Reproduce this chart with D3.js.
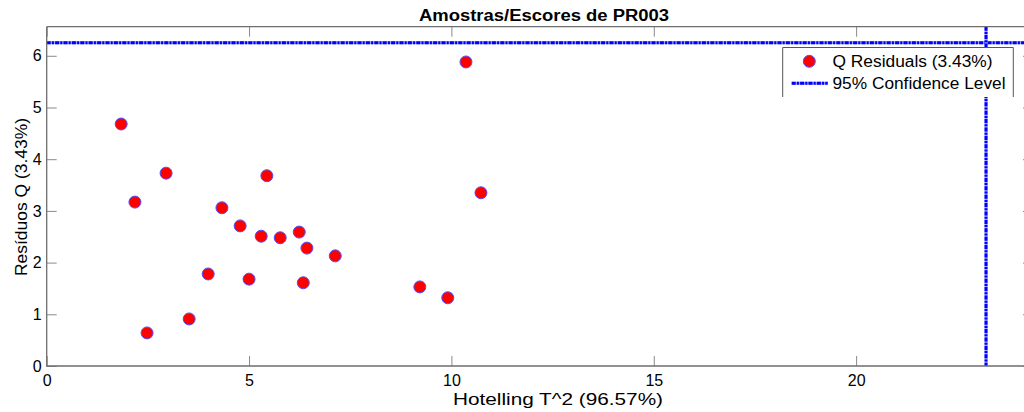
<!DOCTYPE html>
<html>
<head>
<meta charset="utf-8">
<script src="https://cdn.jsdelivr.net/npm/d3@7"></script>
<style>
  html, body { margin: 0; padding: 0; background: #fff; }
  svg { display: block; font-family: "Liberation Sans", Arial, sans-serif; }
</style>
</head>
<body>
<svg id="chart" width="1024" height="412"></svg>
<script>
// Hotelling T^2 and Q residuals for each sample
const tSquared   = [1.84, 2.18, 2.48, 2.95, 3.52, 3.99, 4.33, 4.78, 5.00, 5.30,
                    5.44, 5.77, 6.24, 6.43, 6.34, 7.13, 9.22, 9.91, 10.36, 10.73];
const qResiduals = [4.68, 3.17, 0.64, 3.73, 0.91, 1.78, 3.06, 2.71, 1.68, 2.51,
                    3.68, 2.48, 2.59, 2.28, 1.61, 2.13, 1.53, 1.32, 5.88, 3.35];

// 95% confidence limits
const qLimit = 6.25;
const tLimit = 23.21;

const xTicks = [0, 5, 10, 15, 20];
const yTicks = [0, 1, 2, 3, 4, 5, 6];

const titleText  = "Amostras/Escores de PR003";
const xLabelText = "Hotelling T^2 (96.57%)";
const yLabelText = "Resíduos Q (3.43%)";
const legendLabels = ["Q Residuals (3.43%)", "95% Confidence Level"];

const svg = d3.select("#chart");
const plotLeft = 46.7, plotRight = 1033, plotTop = 26.7, plotBottom = 366;

const x = d3.scaleLinear().domain([0, tLimit * 1.05]).range([plotLeft, plotRight]);
const y = d3.scaleLinear().domain([0, qLimit * 1.05]).range([plotBottom, plotTop]);

const axisColor = "#6e6e6e";
const tickColor = "#8a8a8a";
const fontSize = 16;

// confidence limit lines: light underlay plus dash-dot pattern
function limitLine(x1, y1, x2, y2) {
  svg.append("line")
    .attr("x1", x1).attr("y1", y1).attr("x2", x2).attr("y2", y2)
    .attr("stroke", "#9a9aff").attr("stroke-width", 3);
  svg.append("line")
    .attr("x1", x1).attr("y1", y1).attr("x2", x2).attr("y2", y2)
    .attr("stroke", "#0000ff").attr("stroke-width", 3)
    .attr("stroke-dasharray", "4,1.2,2,1.2");
}
limitLine(plotLeft, y(qLimit), plotRight, y(qLimit));
limitLine(x(tLimit), plotTop, x(tLimit), plotBottom);

// axes with inward ticks
const fmt = d3.format("d");
const gx = svg.append("g").attr("transform", `translate(0,${plotBottom})`)
  .call(d3.axisBottom(x).tickValues(xTicks).tickFormat(fmt)
    .tickSizeInner(-10).tickSizeOuter(0).tickPadding(8.5));
const gy = svg.append("g").attr("transform", `translate(${plotLeft},0)`)
  .call(d3.axisLeft(y).tickValues(yTicks).tickFormat(fmt)
    .tickSizeInner(-10).tickSizeOuter(0).tickPadding(5));
const gxTop = svg.append("g").attr("transform", `translate(0,${plotTop})`)
  .call(d3.axisTop(x).tickValues(xTicks).tickSizeInner(-10).tickSizeOuter(0).tickFormat(""));
const gyRight = svg.append("g").attr("transform", `translate(${plotRight},0)`)
  .call(d3.axisRight(y).tickValues(yTicks).tickSizeInner(-10).tickSizeOuter(0).tickFormat(""));

[gx, gy, gxTop, gyRight].forEach(g => {
  g.select(".domain").remove();
  g.selectAll(".tick line").attr("stroke", tickColor).attr("stroke-width", 1);
  g.selectAll(".tick text")
    .attr("fill", "#000")
    .style("font-size", fontSize + "px")
    .style("font-family", "Liberation Sans, Arial, sans-serif");
});

// plot frame
svg.append("path")
  .attr("d", `M${plotLeft},${plotTop}H${plotRight}M${plotLeft},${plotTop}V${plotBottom}H${plotRight}V${plotTop}`)
  .attr("fill", "none").attr("stroke", axisColor).attr("stroke-width", 1.3);

// sample points
svg.append("g").selectAll("circle")
  .data(tSquared.map((t, i) => ({ t, q: qResiduals[i] })))
  .join("circle")
  .attr("cx", d => x(d.t))
  .attr("cy", d => y(d.q))
  .attr("r", 6)
  .attr("fill", "#ff0000")
  .attr("stroke", "#5050ff")
  .attr("stroke-width", 1);

// legend
const lg = svg.append("g");
lg.append("rect").attr("x", 782.7).attr("y", 47.5).attr("width", 230.6).attr("height", 49.5)
  .attr("fill", "#fff");
lg.append("path").attr("d", "M782.7,97V47.5H1013.3V97")
  .attr("fill", "none").attr("stroke", "#555").attr("stroke-width", 1);
lg.append("circle").attr("cx", 809.3).attr("cy", 61.3).attr("r", 6)
  .attr("fill", "#ff0000").attr("stroke", "#5050ff").attr("stroke-width", 1);
lg.append("line").attr("x1", 791.7).attr("x2", 827.7).attr("y1", 83.3).attr("y2", 83.3)
  .attr("stroke", "#9a9aff").attr("stroke-width", 3);
lg.append("line").attr("x1", 791.7).attr("x2", 827.7).attr("y1", 83.3).attr("y2", 83.3)
  .attr("stroke", "#0000ff").attr("stroke-width", 3).attr("stroke-dasharray", "4,1.2,2,1.2");
const legendWidths = [160, 173];
lg.selectAll("text").data(legendLabels).join("text")
  .attr("x", 832.5).attr("y", (d, i) => 66.5 + i * 22.6)
  .attr("textLength", (d, i) => legendWidths[i])
  .attr("lengthAdjust", "spacingAndGlyphs")
  .style("font-size", fontSize + "px").text(d => d);

// title and axis labels
svg.append("text").attr("x", 544).attr("y", 20.5).attr("text-anchor", "middle")
  .attr("textLength", 250).attr("lengthAdjust", "spacingAndGlyphs")
  .style("font-size", "16px").style("font-weight", "bold").text(titleText);
svg.append("text").attr("x", 558).attr("y", 404.5).attr("text-anchor", "middle")
  .attr("textLength", 210).attr("lengthAdjust", "spacingAndGlyphs")
  .style("font-size", fontSize + "px").text(xLabelText);
svg.append("text").attr("transform", `translate(27,197) rotate(-90)`)
  .attr("text-anchor", "middle")
  .attr("textLength", 158).attr("lengthAdjust", "spacingAndGlyphs")
  .style("font-size", fontSize + "px").text(yLabelText);
</script>
</body>
</html>
